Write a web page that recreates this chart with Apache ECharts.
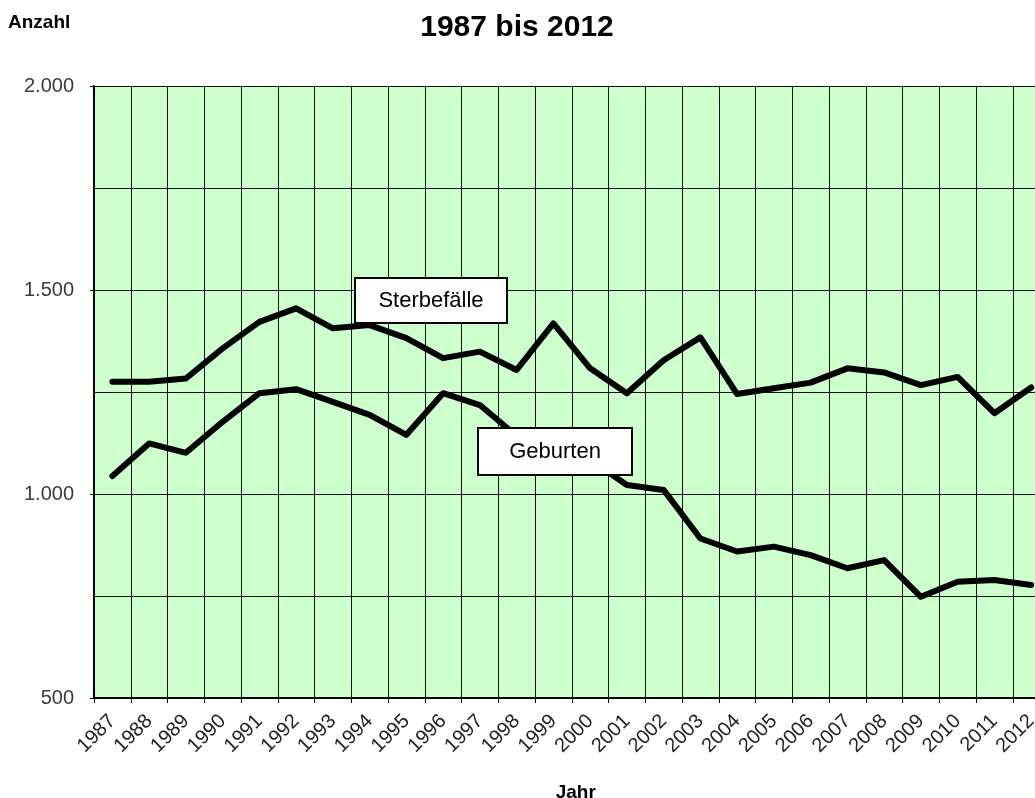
<!DOCTYPE html>
<html>
<head>
<meta charset="utf-8">
<script src="https://cdn.jsdelivr.net/npm/echarts@6/dist/echarts.min.js"></script>
<style>
  html, body { margin: 0; padding: 0; background: #fff; }
  #chart { width: 1035px; height: 798px; }
</style>
</head>
<body>
<div id="chart"></div>
<script>
const years = ['1987', '1988', '1989', '1990', '1991', '1992', '1993', '1994', '1995', '1996', '1997', '1998', '1999',
  '2000', '2001', '2002', '2003', '2004', '2005', '2006', '2007', '2008', '2009', '2010', '2011', '2012'];

// Sterbefälle (deaths)
const sterbefaelle = [1275, 1275, 1283, 1357, 1422, 1455, 1406, 1414, 1382, 1333, 1349, 1304, 1418,
  1308, 1247, 1328, 1384, 1245, 1259, 1273, 1308, 1298, 1267, 1287, 1198, 1261];

// Geburten (births)
const geburten = [1044, 1124, 1101, 1177, 1247, 1257, 1226, 1194, 1145, 1247, 1218, 1142, 1110,
  1084, 1022, 1010, 891, 859, 871, 850, 818, 838, 748, 785, 789, 777];

const FONT = '"Liberation Sans", Arial, sans-serif';

const fmtThousands = v => String(v).replace(/\B(?=(\d{3})+(?!\d))/g, '.');

const chart = echarts.init(document.getElementById('chart'), null, {renderer: 'canvas'});

chart.setOption({
  animation: false,
  backgroundColor: '#ffffff',
  textStyle: {fontFamily: FONT},
  title: {
    text: '1987 bis 2012',
    left: 512,
    textAlign: 'center',
    top: 8,
    textStyle: {fontFamily: FONT, fontSize: 30, fontWeight: 'bold', color: '#000'}
  },
  grid: {
    left: 94,
    top: 86,
    right: -14.5,
    bottom: 100,
    containLabel: false,
    outerBoundsMode: 'none',
    show: true,
    backgroundColor: '#CCFFCC',
    borderWidth: 0
  },
  xAxis: {
    type: 'category',
    data: years,
    boundaryGap: true,
    name: 'Jahr',
    nameLocation: 'middle',
    nameGap: 85,
    nameTextStyle: {fontFamily: FONT, fontSize: 19, fontWeight: 'bold', color: '#000', padding: [0, 0, 0, 8]},
    axisLine: {show: true, lineStyle: {color: '#000', width: 2}},
    axisTick: {show: true, length: 5, interval: 0, lineStyle: {color: '#000', width: 1}},
    splitLine: {show: true, interval: 0, lineStyle: {color: '#111', width: 1}},
    axisLabel: {
      interval: 0,
      rotate: 45,
      margin: 20,
      fontSize: 20,
      color: '#222',
      fontFamily: FONT
    }
  },
  yAxis: {
    type: 'value',
    min: 500,
    max: 2000,
    interval: 500,
    name: 'Anzahl',
    nameLocation: 'end',
    nameGap: 0,
    nameTextStyle: {fontFamily: FONT, fontSize: 19, fontWeight: 'bold', color: '#000', align: 'left', padding: [0, 0, 54, -86]},
    axisLine: {show: true, lineStyle: {color: '#000', width: 2}},
    axisTick: {show: true, length: 4, lineStyle: {color: '#000', width: 1}},
    minorTick: {show: false, splitNumber: 2},
    splitLine: {show: true, lineStyle: {color: '#111', width: 1}},
    minorSplitLine: {show: true, lineStyle: {color: '#111', width: 1}},
    axisLabel: {
      margin: 20,
      fontSize: 20,
      color: '#3a3a3a',
      fontFamily: FONT,
      formatter: v => fmtThousands(v)
    }
  },
  series: [
    {
      name: 'Sterbefälle',
      type: 'line',
      data: sterbefaelle,
      showSymbol: false,
      symbol: 'none',
      lineStyle: {color: '#000', width: 6, cap: 'round', join: 'round'},
      z: 3
    },
    {
      name: 'Geburten',
      type: 'line',
      data: geburten,
      showSymbol: false,
      symbol: 'none',
      lineStyle: {color: '#000', width: 6, cap: 'round', join: 'round'},
      z: 3
    }
  ],
  graphic: [
    {type: 'rect', z: 100, shape: {x: 355, y: 278, width: 152, height: 45},
      style: {fill: '#fff', stroke: '#000', lineWidth: 2}},
    {type: 'text', z: 101, x: 431, y: 301,
      style: {text: 'Sterbefälle', font: '22px ' + FONT, fill: '#000', align: 'center', verticalAlign: 'middle'}},
    {type: 'rect', z: 100, shape: {x: 478, y: 428, width: 154, height: 47},
      style: {fill: '#fff', stroke: '#000', lineWidth: 2}},
    {type: 'text', z: 101, x: 555, y: 452,
      style: {text: 'Geburten', font: '22px ' + FONT, fill: '#000', align: 'center', verticalAlign: 'middle'}}
  ]
});
</script>
</body>
</html>
